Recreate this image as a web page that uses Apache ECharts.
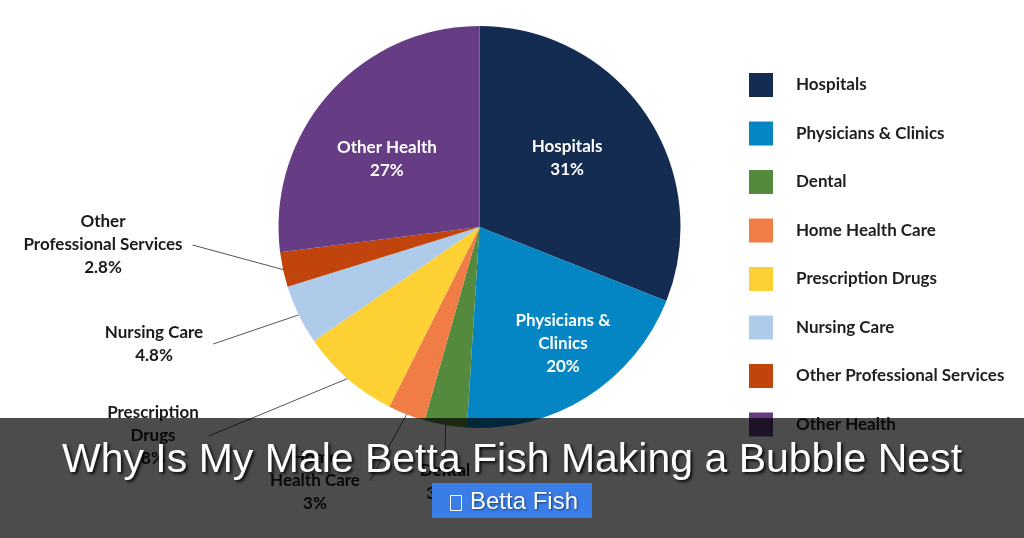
<!DOCTYPE html>
<html>
<head>
<meta charset="utf-8">
<script src="https://cdn.jsdelivr.net/npm/echarts@6/dist/echarts.min.js"></script>
<style>
html,body{margin:0;padding:0;background:#fff;}
#chart{width:1024px;height:538px;}
</style>
</head>
<body>
<div id="chart"></div>
<script>
// ---- data ----
var categories = ['Hospitals', 'Physicians & Clinics', 'Dental', 'Home Health Care', 'Prescription Drugs', 'Nursing Care', 'Other Professional Services', 'Other Health'];
var labelNames = ['Hospitals', 'Physicians &\nClinics', 'Dental', 'Home\nHealth Care', 'Prescription\nDrugs', 'Nursing Care', 'Other\nProfessional Services', 'Other Health'];
var shares = [31, 20, 3.4, 3, 8, 4.8, 2.8, 27];
var colors = ['#142c51', '#0485c4', '#548a3e', '#ef7d45', '#fdd133', '#aecbea', '#c0440c', '#663c84'];
var insideLabel = [true, true, false, false, false, false, false, true];
var titleText = 'Why Is My Male Betta Fish Making a Bubble Nest';
var tagText = 'Betta Fish';

// ---- layout (label placement) ----
var labelShift = { 0: [2, -11], 1: [28, 29], 7: [-15, 0] };
var labelPos = { 2: [445, 482], 3: [315, 481], 4: [153, 436], 5: [154, 344], 6: [103, 245] };

var fontFam = 'Lato, "Open Sans", sans-serif';
var pieData = categories.map(function (c, i) {
  return {
    name: c,
    value: shares[i],
    itemStyle: { color: colors[i] },
    label: insideLabel[i] ? {
      position: 'inside', color: '#ffffff'
    } : {
      position: 'outside', color: '#1a1a1a', padding: [2, 10]
    },
    labelLine: { show: !insideLabel[i] }
  };
});

var chart = echarts.init(document.getElementById('chart'), null, { renderer: 'canvas' });
chart.setOption({
  backgroundColor: '#ffffff',
  animation: false,
  legend: {
    orient: 'vertical',
    left: 749,
    top: 73,
    padding: 0,
    itemWidth: 24,
    itemHeight: 24,
    itemGap: 24.5,
    icon: 'rect',
    selectedMode: false,
    data: categories,
    textStyle: {
      fontFamily: fontFam, fontWeight: 'bold', fontSize: 17, color: '#1e1e1e',
      padding: [0, 0, 0, 18]
    }
  },
  series: [{
    type: 'pie',
    center: [479.5, 227],
    radius: [0, 201],
    startAngle: 90,
    clockwise: true,
    avoidLabelOverlap: false,
    itemStyle: { borderWidth: 0 },
    label: {
      show: true,
      fontFamily: fontFam,
      fontWeight: 'bold',
      fontSize: 17,
      lineHeight: 23,
      align: 'center',
      formatter: function (p) {
        return labelNames[p.dataIndex] + '\n' + shares[p.dataIndex] + '%';
      }
    },
    labelLine: {
      show: true,
      length: 10,
      length2: 0,
      lineStyle: { color: '#555555', width: 1 }
    },
    labelLayout: function (p) {
      var i = p.dataIndex;
      if (labelPos[i]) {
        return { x: labelPos[i][0], y: labelPos[i][1], align: 'center', verticalAlign: 'middle' };
      }
      if (labelShift[i]) {
        return { dx: labelShift[i][0], dy: labelShift[i][1] };
      }
      return {};
    },
    emphasis: { disabled: true },
    data: pieData
  }],
  graphic: [
    {
      type: 'rect', z: 100, left: 0, top: 418,
      shape: { width: 1024, height: 120 },
      style: { fill: 'rgba(0,0,0,0.7)' }
    },
    {
      type: 'text', z: 101, left: 'center', top: 440,
      style: {
        text: titleText,
        fontFamily: '"Liberation Sans", Arial, sans-serif',
        fontSize: 41,
        fill: '#ffffff',
        textShadowColor: 'rgba(0,0,0,0.85)',
        textShadowBlur: 3,
        textShadowOffsetX: 2,
        textShadowOffsetY: 2
      }
    },
    {
      type: 'rect', z: 101, left: 432, top: 483,
      shape: { width: 160, height: 35 },
      style: { fill: '#3b7de6' }
    },
    {
      type: 'rect', z: 102, left: 448, top: 493,
      shape: { width: 11, height: 15 },
      style: { fill: 'none', stroke: '#ffffff', lineWidth: 1 }
    },
    {
      type: 'text', z: 102, left: 470, top: 490,
      style: {
        text: tagText,
        fontFamily: '"Liberation Sans", Arial, sans-serif',
        fontSize: 24,
        fill: '#ffffff',
        textShadowColor: 'rgba(0,0,0,0.5)',
        textShadowBlur: 2,
        textShadowOffsetX: 1,
        textShadowOffsetY: 1
      }
    }
  ]
});
</script>
</body>
</html>
